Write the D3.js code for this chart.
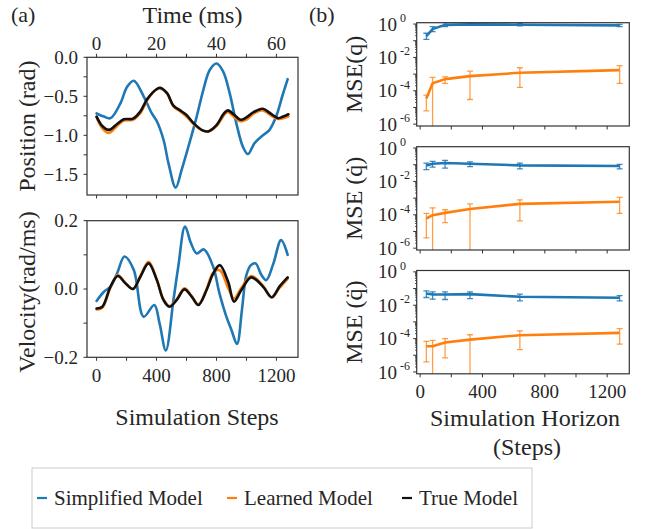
<!DOCTYPE html>
<html><head><meta charset="utf-8">
<script src="https://cdn.jsdelivr.net/npm/d3@7"></script>
<style>
body{margin:0;background:#fff}
svg{display:block}
text{font-family:"Liberation Serif","Times New Roman",serif;fill:#262626}
</style>
</head><body>
<svg id="c" width="649" height="529"></svg>
<script>
// ---------------- DATA ----------------
// (a) Position (rad) vs simulation step
const stepsPosSimplified = [0,49,93,159,203,248,314,369,402,447,480,528,568,612,668,712,756,800,844,888,933,977,1010,1054,1110,1154,1198,1242,1275];
const posSimplified = [-0.72,-0.76,-0.78,-0.59,-0.38,-0.30,-0.50,-0.72,-0.82,-1.06,-1.36,-1.67,-1.44,-1.15,-0.76,-0.42,-0.16,-0.08,-0.18,-0.46,-0.85,-1.15,-1.24,-1.10,-1.00,-0.93,-0.76,-0.48,-0.28];
const stepsPosTrue = [0,38,82,137,181,243,290,340,400,424,470,513,557,600,650,711,745,800,850,876,920,960,1000,1050,1110,1160,1210,1245,1280];
const posTrue = [-0.76,-0.88,-0.93,-0.855,-0.795,-0.786,-0.70,-0.53,-0.41,-0.39,-0.46,-0.62,-0.68,-0.74,-0.85,-0.94,-0.95,-0.87,-0.72,-0.68,-0.74,-0.80,-0.77,-0.70,-0.66,-0.72,-0.78,-0.76,-0.73];
const posLearned = [-0.77,-0.91,-0.97,-0.88,-0.81,-0.80,-0.72,-0.54,-0.41,-0.40,-0.46,-0.63,-0.69,-0.76,-0.86,-0.94,-0.95,-0.88,-0.74,-0.70,-0.77,-0.82,-0.80,-0.72,-0.68,-0.74,-0.79,-0.78,-0.76];

// (a) Velocity (rad/ms) vs simulation step
const stepsVelSimplified = [0,49,93,137,186,248,314,385,420,462,513,545,590,630,668,716,778,820,866,900,937,970,999,1030,1061,1100,1132,1180,1231,1275];
const velSimplified = [-0.035,-0.008,0.007,0.046,0.095,0.056,-0.081,-0.047,-0.10,-0.18,-0.032,0.065,0.183,0.134,0.104,0.116,0.065,-0.013,-0.081,-0.12,-0.161,-0.061,0.04,0.07,0.075,0.041,0.026,0.075,0.143,0.10];
const stepsVelTrue = [0,38,93,141,192,243,292,347,402,446,486,535,586,634,679,734,778,822,878,917,966,1032,1110,1169,1220,1275];
const velTrue = [-0.057,-0.052,0.007,0.038,0.017,0.0,0.036,0.075,0.026,-0.032,-0.052,-0.032,-0.001,-0.022,-0.047,-0.003,0.045,0.070,0.021,-0.037,-0.003,0.034,0.007,-0.024,0.007,0.034];
const velLearned = [-0.060,-0.055,0.005,0.041,0.018,0.0,0.038,0.080,0.028,-0.030,-0.050,-0.030,0.002,-0.020,-0.045,0.0,0.048,0.055,0.003,-0.028,0.003,0.038,0.010,-0.025,0.003,0.030];

// (b) MSE vs simulation horizon
const horizons = [40,80,160,320,640,1280];
const mseQSimplified     = [0.19,0.50,0.89,0.95,0.91,0.83];
const mseQSimplifiedLow  = [0.12,0.35,0.69,0.83,0.79,0.69];
const mseQSimplifiedHigh = [0.28,0.69,1.2,1.2,1.1,0.95];
const mseQLearned        = [3.5e-5,2.8e-4,5.0e-4,7.6e-4,1.2e-3,1.74e-3];
const mseQLearnedLow     = [6.3e-6,0,2.8e-4,3.0e-5,1.6e-4,2.8e-4];
const mseQLearnedHigh    = [5.5e-5,6.3e-4,6.9e-4,1.5e-3,2.4e-3,3.2e-3];

const mseQdSimplified     = [0.091,0.115,0.126,0.115,0.091,0.083];
const mseQdSimplifiedLow  = [0.051,0.072,0.063,0.076,0.056,0.056];
const mseQdSimplifiedHigh = [0.126,0.158,0.18,0.15,0.126,0.105];
const mseQdLearned        = [6.0e-5,9.5e-5,1.3e-4,2.2e-4,4.5e-4,6.0e-4];
const mseQdLearnedLow     = [4.1e-6,0,3.4e-5,0,4.3e-5,1.2e-4];
const mseQdLearnedHigh    = [1.2e-4,2.6e-4,2.0e-4,4.5e-4,7.9e-4,1.1e-3];

const mseQddSimplified     = [0.050,0.044,0.044,0.046,0.032,0.028];
const mseQddSimplifiedLow  = [0.029,0.023,0.022,0.025,0.018,0.018];
const mseQddSimplifiedHigh = [0.072,0.063,0.063,0.063,0.046,0.038];
const mseQddLearned        = [3.5e-5,3.5e-5,5.8e-5,8.7e-5,1.6e-4,2.2e-4];
const mseQddLearnedLow     = [4.0e-6,0,6.9e-6,0,2.2e-5,4.6e-5];
const mseQddLearnedHigh    = [6.9e-5,7.9e-5,1.0e-4,1.7e-4,2.9e-4,4.0e-4];

const posTicks = [0,-0.5,-1.0,-1.5];
const velTicks = [0.2,0.0,-0.2];
const stepTicks = [0,400,800,1200];
const timeTicks = [0,20,40,60];
const mseTickExps = [0,-2,-4,-6];
const mseLabels = ["MSE(q)","MSE (q\u0307)","MSE (q\u0308)"];
const legendLabels = ["Simplified Model","Learned Model","True Model"];

// ---------------- STYLE ----------------
const C_BLUE = "#1f77b4", C_ORANGE = "#ff7f0e", C_BLACK = "#111";
const FRAME = "#333";
const svg = d3.select("#c");
const fmt = v => (v < 0 ? "\u2212" : "") + Math.abs(v).toFixed(1);

function frame(x0, y0, x1, y1) {
  svg.append("rect").attr("x", x0).attr("y", y0).attr("width", x1 - x0).attr("height", y1 - y0)
    .attr("fill", "none").attr("stroke", FRAME).attr("stroke-width", 1.2);
}
function tickV(x, y, len) {
  svg.append("line").attr("x1", x).attr("x2", x).attr("y1", y).attr("y2", y + len)
    .attr("stroke", FRAME).attr("stroke-width", 1);
}
function tickH(x, y, len) {
  svg.append("line").attr("x1", x).attr("x2", x + len).attr("y1", y).attr("y2", y)
    .attr("stroke", FRAME).attr("stroke-width", 1);
}

// ---------------- LEFT PANELS ----------------
const L = {x0: 87, x1: 298};
const topP = {y0: 57.3, y1: 195};
const botP = {y0: 220.7, y1: 357.3};
const xL = d3.scaleLinear().domain([-64, 1344]).range([L.x0, L.x1]);
const xT = d3.scaleLinear().domain([-3.2, 67.2]).range([L.x0, L.x1]);
const yPos = d3.scaleLinear().domain([-1.765, 0]).range([topP.y1, topP.y0]);
const yVel = d3.scaleLinear().domain([-0.2, 0.2]).range([botP.y1, botP.y0]);

const clipDefs = svg.append("defs");
function clip(id, x0, y0, x1, y1) {
  clipDefs.append("clipPath").attr("id", id).append("rect")
    .attr("x", x0).attr("y", y0).attr("width", x1 - x0).attr("height", y1 - y0);
}
clip("cTop", L.x0, topP.y0, L.x1, topP.y1);
clip("cBot", L.x0, botP.y0, L.x1, botP.y1);

function drawSeries(clipId, xs, ys, xScale, yScale, color) {
  const line = d3.line().x(d => xScale(d[0])).y(d => yScale(d[1])).curve(d3.curveCatmullRom.alpha(0.5));
  svg.append("path").attr("clip-path", `url(#${clipId})`)
    .attr("d", line(xs.map((s, i) => [s, ys[i]])))
    .attr("fill", "none").attr("stroke", color).attr("stroke-width", 2.6)
    .attr("stroke-linejoin", "round").attr("stroke-linecap", "round");
}
drawSeries("cTop", stepsPosSimplified, posSimplified, xL, yPos, C_BLUE);
drawSeries("cTop", stepsPosTrue, posLearned, xL, yPos, C_ORANGE);
drawSeries("cTop", stepsPosTrue, posTrue, xL, yPos, C_BLACK);
drawSeries("cBot", stepsVelSimplified, velSimplified, xL, yVel, C_BLUE);
drawSeries("cBot", stepsVelTrue, velLearned, xL, yVel, C_ORANGE);
drawSeries("cBot", stepsVelTrue, velTrue, xL, yVel, C_BLACK);

frame(L.x0, topP.y0, L.x1, topP.y1);
frame(L.x0, botP.y0, L.x1, botP.y1);

d3.range(0, 61, 10).forEach(t => {
  tickV(xT(t), topP.y0, -3.5);
  tickV(xT(t), topP.y1, 3.5);
});
timeTicks.forEach(t => {
  svg.append("text").attr("x", xT(t)).attr("y", 50).attr("text-anchor", "middle")
    .attr("font-size", 19).text(t);
});
svg.append("text").attr("x", xT(32)).attr("y", 23).attr("text-anchor", "middle")
  .attr("font-size", 24).text("Time (ms)");

d3.range(0, 1201, 200).forEach(s => tickV(xL(s), botP.y1, 3.5));
stepTicks.forEach(s => {
  svg.append("text").attr("x", xL(s)).attr("y", 382).attr("text-anchor", "middle")
    .attr("font-size", 19).text(s);
});
svg.append("text").attr("x", 197).attr("y", 425).attr("text-anchor", "middle")
  .attr("font-size", 24).text("Simulation Steps");

d3.range(0, -1.51, -0.25).forEach(v => tickH(L.x0, yPos(v), -3.5));
posTicks.forEach(v => {
  svg.append("text").attr("x", 78).attr("y", yPos(v)).attr("dy", "0.33em")
    .attr("text-anchor", "end").attr("font-size", 19).text(fmt(v));
});
[-0.2, -0.1, 0, 0.1, 0.2].forEach(v => tickH(L.x0, yVel(v), -3.5));
velTicks.forEach(v => {
  svg.append("text").attr("x", 78).attr("y", yVel(v)).attr("dy", "0.33em")
    .attr("text-anchor", "end").attr("font-size", 19).text(fmt(v));
});
svg.append("text").attr("transform", `translate(35,${(topP.y0 + topP.y1) / 2}) rotate(-90)`)
  .attr("text-anchor", "middle").attr("font-size", 24).text("Position (rad)");
svg.append("text").attr("transform", `translate(35,${(botP.y0 + botP.y1) / 2 + 3}) rotate(-90)`)
  .attr("text-anchor", "middle").attr("font-size", 24).text("Velocity(rad/ms)");

svg.append("text").attr("x", 11).attr("y", 22).attr("font-size", 22).text("(a)");
svg.append("text").attr("x", 309).attr("y", 22).attr("font-size", 22).text("(b)");

// ---------------- RIGHT PANELS ----------------
const R = {x0: 416.7, x1: 629.3};
const panelH = 103.3;
const rTops = [22.7, 146.7, 270.5];
const xR = d3.scaleLinear().domain([-22, 1342]).range([R.x0, R.x1]);
const rightPanels = [
  {simp: mseQSimplified, sLo: mseQSimplifiedLow, sHi: mseQSimplifiedHigh,
   learn: mseQLearned, lLo: mseQLearnedLow, lHi: mseQLearnedHigh},
  {simp: mseQdSimplified, sLo: mseQdSimplifiedLow, sHi: mseQdSimplifiedHigh,
   learn: mseQdLearned, lLo: mseQdLearnedLow, lHi: mseQdLearnedHigh},
  {simp: mseQddSimplified, sLo: mseQddSimplifiedLow, sHi: mseQddSimplifiedHigh,
   learn: mseQddLearned, lLo: mseQddLearnedLow, lHi: mseQddLearnedHigh}
];

rightPanels.forEach((p, k) => {
  const y0 = rTops[k], y1 = y0 + panelH;
  const yS = d3.scaleLog().domain([Math.pow(10, -6.11), Math.pow(10, 0.08)]).range([y1, y0]);
  const cid = "cR" + k;
  clip(cid, R.x0, y0, R.x1, y1);
  const g = svg.append("g").attr("clip-path", `url(#${cid})`);
  const yc = v => (v <= 0 ? y1 + 2 : yS(v));

  function series(mean, lo, hi, color, barColor) {
    horizons.forEach((h, i) => {
      const x = xR(h);
      g.append("line").attr("x1", x).attr("x2", x).attr("y1", yc(lo[i])).attr("y2", yc(hi[i]))
        .attr("stroke", barColor).attr("stroke-width", 1.3);
      [lo[i], hi[i]].forEach(v => {
        if (v > 0) g.append("line").attr("x1", x - 3).attr("x2", x + 3).attr("y1", yc(v)).attr("y2", yc(v))
          .attr("stroke", barColor).attr("stroke-width", 1.3);
      });
    });
    const line = d3.line().x((d, i) => xR(horizons[i])).y(d => yS(d));
    g.append("path").attr("d", line(mean)).attr("fill", "none").attr("stroke", color)
      .attr("stroke-width", 2.6).attr("stroke-linejoin", "round");
  }
  series(p.simp, p.sLo, p.sHi, C_BLUE, "rgba(31,119,180,0.85)");
  series(p.learn, p.lLo, p.lHi, C_ORANGE, "rgba(255,127,14,0.75)");

  frame(R.x0, y0, R.x1, y1);
  for (let e = -6; e <= 0; e++) {
    tickH(R.x0, yS(Math.pow(10, e)), -3.5);
    if (e < 0) for (let m = 2; m <= 9; m++) tickH(R.x0, yS(m * Math.pow(10, e)), -1.5);
  }
  mseTickExps.forEach(e => {
    svg.append("text").attr("x", 397).attr("y", yS(Math.pow(10, e))).attr("dy", "0.35em")
      .attr("text-anchor", "end").attr("font-size", 19).text("10");
    svg.append("text").attr("x", 400).attr("y", yS(Math.pow(10, e)) - 2)
      .attr("font-size", 12).text(String(e));
  });
  d3.range(0, 1201, 200).forEach(s => tickV(xR(s), y1, 3.5));

  svg.append("text").attr("transform", `translate(362,${(y0 + y1) / 2}) rotate(-90)`)
    .attr("text-anchor", "middle").attr("font-size", 24).text(mseLabels[k]);
});
stepTicks.forEach(s => {
  svg.append("text").attr("x", xR(s)).attr("y", 398).attr("text-anchor", "middle")
    .attr("font-size", 19).text(s);
});
svg.append("text").attr("x", 525).attr("y", 426).attr("text-anchor", "middle")
  .attr("font-size", 24).text("Simulation Horizon");
svg.append("text").attr("x", 527).attr("y", 455).attr("text-anchor", "middle")
  .attr("font-size", 24).text("(Steps)");

// ---------------- LEGEND ----------------
svg.append("rect").attr("x", 32).attr("y", 468).attr("width", 500).attr("height", 60)
  .attr("fill", "#fff").attr("stroke", "#ccc").attr("stroke-width", 1);
const legendColors = [C_BLUE, C_ORANGE, C_BLACK];
const legendX = [37, 227, 402];
legendLabels.forEach((lab, i) => {
  svg.append("line").attr("x1", legendX[i]).attr("x2", legendX[i] + 10).attr("y1", 498).attr("y2", 498)
    .attr("stroke", legendColors[i]).attr("stroke-width", 2.2);
  svg.append("text").attr("x", legendX[i] + 17).attr("y", 505).attr("font-size", 21).text(lab);
});
</script>
</body></html>
